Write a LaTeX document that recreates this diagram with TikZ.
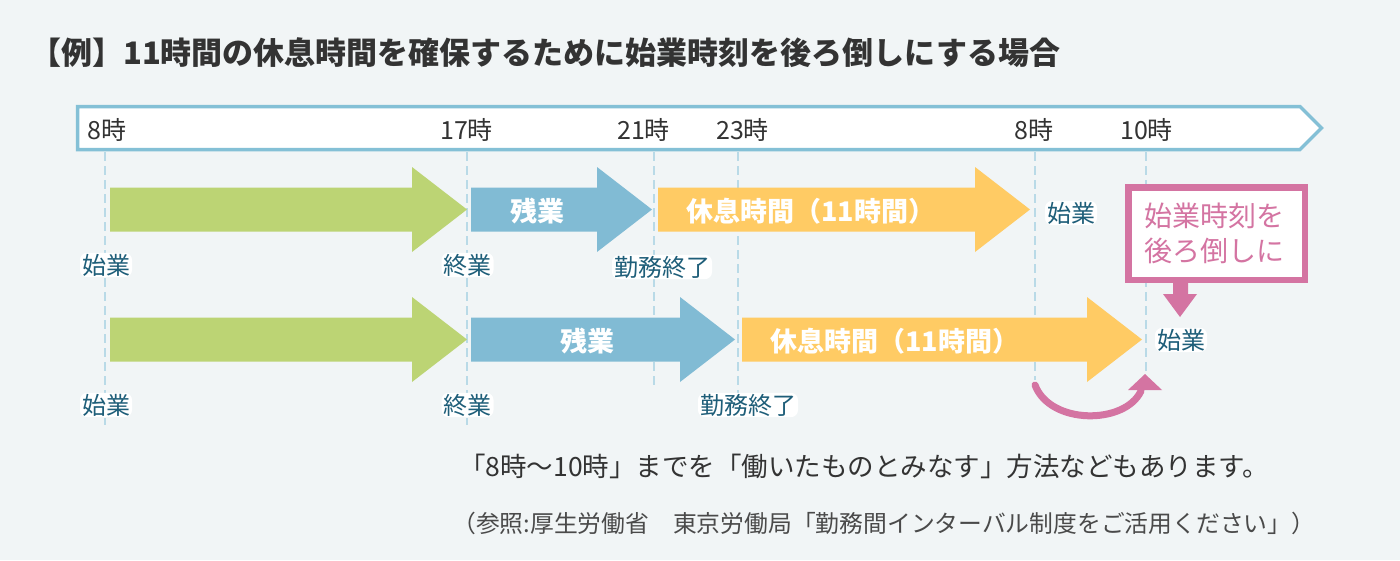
\documentclass[tikz,border=0pt]{standalone}
\usepackage{fontspec}
\setmainfont{Noto Sans CJK JP}
\definecolor{bg}{HTML}{F1F5F6}
\definecolor{tlblue}{HTML}{84C0D6}
\definecolor{dashblue}{HTML}{B9DAE7}
\definecolor{grn}{HTML}{BCD474}
\definecolor{blu}{HTML}{81BBD4}
\definecolor{org}{HTML}{FFCB64}
\definecolor{tealtxt}{HTML}{1E5E79}
\definecolor{pnk}{HTML}{D474A2}
\definecolor{dark}{HTML}{333333}
\definecolor{graytxt}{HTML}{4A4A4A}
\newcommand\barrow[4]{\fill[#4] (#1,#3-22) -- (#2-55,#3-22) -- (#2-55,#3-42.5) -- (#2,#3) -- (#2-55,#3+42.5) -- (#2-55,#3+22) -- (#1,#3+22) -- cycle;}
\begin{document}
\begin{tikzpicture}[x=1pt,y=-1pt,
  lab/.style={inner xsep=2pt, inner ysep=1pt, fill=white, rounded corners=7pt, text=tealtxt, font=\fontsize{24}{26}\selectfont},
  tm/.style={anchor=west, inner sep=0pt, text=dark, font=\fontsize{25}{27}\selectfont},
  dline/.style={draw=dashblue, line width=2pt, dash pattern=on 9pt off 5pt},
  intxt/.style={inner sep=0pt, text=white, font=\bfseries\fontsize{27}{30}\selectfont},
  pinkline/.style={draw=pnk, line width=7pt, line cap=round}]
\fill[bg] (0,0) rectangle (1400,560);
\path[use as bounding box] (0,0) rectangle (1400,560);
% title
\node[anchor=west, inner sep=0pt, text=dark, font=\bfseries\fontsize{31}{34}\selectfont] (title) at (30,53) {【例】11時間の休息時間を確保するために始業時刻を後ろ倒しにする場合};
% dashed guide lines
\coordinate (d1t) at (105,152); \coordinate (d1b) at (105,425);
\coordinate (d2t) at (467,152); \coordinate (d2b) at (467,425);
\coordinate (d3t) at (654,152); \coordinate (d3b) at (654,385);
\coordinate (d4t) at (738,152); \coordinate (d4b) at (738,395);
\coordinate (d5t) at (1035,152); \coordinate (d5b) at (1035,380);
\coordinate (d6t) at (1146,152); \coordinate (d6b) at (1146,373);
\foreach \i in {1,...,6}{\draw[dline] (d\i t) -- (d\i b);}
% timeline
\draw[tlblue, fill=white, line width=3.5pt, line join=miter] (77.5,106.5) -- (1300,106.5) -- (1321.5,128) -- (1300,149.5) -- (77.5,149.5) -- cycle;
\node[tm] (t1) at (87,130) {8時};
\node[tm] (t2) at (440,130) {17時};
\node[tm] (t3) at (617,130) {21時};
\node[tm] (t4) at (716,130) {23時};
\node[tm] (t5) at (1014,130) {8時};
\node[tm] (t6) at (1120,130) {10時};
% row 1 arrows
\barrow{110}{467}{209.5}{grn}
\barrow{471}{652}{209.5}{blu}
\barrow{658}{1030}{209.5}{org}
\node[intxt] (r1a) at (537,211) {残業};
\node[intxt, anchor=west] (r1b) at (686,211) {休息時間（11時間）};
% row 2 arrows
\barrow{110}{467}{339.5}{grn}
\barrow{471}{735}{339.5}{blu}
\barrow{742}{1142}{339.5}{org}
\node[intxt] (r2a) at (587,341) {残業};
\node[intxt, anchor=west] (r2b) at (770,341) {休息時間（11時間）};
% labels
\node[lab] (l1) at (106,265) {始業};
\node[lab] (l2) at (467.5,265) {終業};
\node[lab] (l3) at (662,267) {勤務終了};
\node[lab] (l4) at (1071,213) {始業};
\node[lab] (m1) at (106,405) {始業};
\node[lab] (m2) at (467.5,405) {終業};
\node[lab] (m3) at (748,405) {勤務終了};
\node[lab] (m4) at (1181,340) {始業};
% pink box
\node[draw=pnk, fill=white, line width=6.5pt, minimum width=176.5pt, minimum height=92.5pt, inner sep=0pt] (pbox) at (1216.5,233.5) {};
\node[align=center, text=pnk, font=\fontsize{28}{35}\selectfont, inner sep=0pt] (ptxt) at (1214,233) {始業時刻を\\後ろ倒しに};
\fill[pnk] (1173,279) -- (1188,279) -- (1188,294) -- (1197,294) -- (1180,317) -- (1163,294) -- (1173,294) -- cycle;
% curved arrow
\coordinate (cs) at (1035,385);
\coordinate (ce) at (1141,391);
\draw[pinkline] (cs) .. controls (1050,425) and (1125,425) .. (ce);
\fill[pnk] (1128,390) -- (1145,374) -- (1162,390) -- cycle;
% bottom text
\node[anchor=west, inner sep=0pt, text=dark, font=\fontsize{26.5}{28}\selectfont] (note) at (459,466) {「8時～10時」までを「働いたものとみなす」方法などもあります。};
\node[anchor=west, inner sep=0pt, text=graytxt, font=\fontsize{23.8}{26}\selectfont] (ref) at (452,523) {（参照:厚生労働省　東京労働局「勤務間インターバル制度をご活用ください」）};
\end{tikzpicture}
\end{document}
